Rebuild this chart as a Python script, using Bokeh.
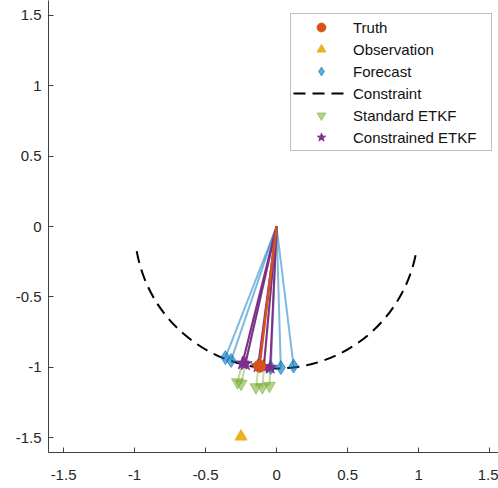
import numpy as np
from bokeh.plotting import figure
from bokeh.models import Range1d, FixedTicker, NumeralTickFormatter, Legend, LegendItem
from bokeh.embed import file_html
from bokeh.resources import INLINE

# ---- data ----
origin_x = 0.0
origin_y = 0.0
truth_x = [-0.12]
truth_y = [-0.99]
obs_x = [-0.25]
obs_y = [-1.49]
forecast_x = [-0.36, -0.32, -0.04, 0.03, 0.12]
forecast_y = [-0.93, -0.95, -1.00, -1.00, -0.99]
standard_x = [-0.275, -0.25, -0.145, -0.10, -0.05]
standard_y = [-1.105, -1.115, -1.14, -1.14, -1.13]
constrained_x = [-0.24, -0.22, -0.13, -0.09, -0.045]
constrained_y = [-0.97, -0.975, -0.99, -0.995, -1.0]
constraint_radius = 1.0
constraint_start_deg = 190
constraint_end_deg = 350
ticks = [-1.5, -1, -0.5, 0, 0.5, 1, 1.5]
labels = ["Truth", "Observation", "Forecast", "Constraint", "Standard ETKF", "Constrained ETKF"]

C_TRUTH = "#D95319"
C_OBS = "#EDB120"
C_FC = "#0072BD"
C_STD = "#77AC30"
C_CON = "#7E2F8E"
FONT = "Liberation Sans"

p = figure(width=498, height=488, title=None,
           x_range=Range1d(-1.606, 1.563), y_range=Range1d(-1.603, 1.603),
           output_backend="svg", toolbar_location=None,
           min_border_left=48, min_border_right=0, min_border_top=0, min_border_bottom=36,
           outline_line_color=None, background_fill_color="white")
p.grid.visible = False

# constraint arc
r_con = p.arc(x=[origin_x], y=[origin_y], radius=constraint_radius,
              start_angle=np.deg2rad(constraint_start_deg), end_angle=np.deg2rad(constraint_end_deg),
              line_color="black", line_width=2, line_dash="12 7")

n = len(forecast_x)
# spokes from origin
p.segment(x0=[origin_x]*n, y0=[origin_y]*n, x1=forecast_x, y1=forecast_y,
          line_color=C_FC, line_alpha=0.5, line_width=2)
p.segment(x0=[origin_x]*len(standard_x), y0=[origin_y]*len(standard_x), x1=standard_x, y1=standard_y,
          line_color=C_STD, line_alpha=0.45, line_width=2)
p.segment(x0=[origin_x]*len(constrained_x), y0=[origin_y]*len(constrained_x), x1=constrained_x, y1=constrained_y,
          line_color=C_CON, line_alpha=1.0, line_width=2)
p.segment(x0=[origin_x], y0=[origin_y], x1=truth_x, y1=truth_y,
          line_color=C_TRUTH, line_width=2.5)

r_fc = p.scatter(forecast_x, forecast_y, marker="diamond", size=14,
                 fill_color=C_FC, fill_alpha=0.6, line_color=C_FC, line_alpha=0.6)
r_std = p.scatter(standard_x, standard_y, marker="inverted_triangle", size=12,
                  fill_color=C_STD, fill_alpha=0.55, line_color=C_STD, line_alpha=0.55)
r_con_ens = p.scatter(constrained_x, constrained_y, marker="star", size=14,
                      fill_color=C_CON, line_color=C_CON)
r_truth = p.scatter(truth_x, truth_y, marker="circle", size=12,
                    fill_color=C_TRUTH, line_color=C_TRUTH)
r_obs = p.scatter(obs_x, obs_y, marker="triangle", size=12,
                  fill_color=C_OBS, line_color=C_OBS)

for ax in (p.xaxis[0], p.yaxis[0]):
    ax.ticker = FixedTicker(ticks=ticks)
    ax.formatter = NumeralTickFormatter(format="0.[0]")
    ax.minor_tick_line_color = None
    ax.major_tick_in = 5
    ax.major_tick_out = 0
    ax.axis_line_color = "#404040"
    ax.major_tick_line_color = "#404040"
    ax.major_label_text_font = FONT
    ax.major_label_text_font_size = "15px"
    ax.major_label_text_color = "#262626"
p.yaxis[0].major_label_standoff = 7
p.xaxis[0].major_label_standoff = 17

legend = Legend(items=[
    LegendItem(label=labels[0], renderers=[r_truth]),
    LegendItem(label=labels[1], renderers=[r_obs]),
    LegendItem(label=labels[2], renderers=[r_fc]),
    LegendItem(label=labels[3], renderers=[r_con]),
    LegendItem(label=labels[4], renderers=[r_std]),
    LegendItem(label=labels[5], renderers=[r_con_ens]),
], location=(242, 301))
legend.padding = 2
legend.spacing = 0
legend.glyph_width = 56
legend.glyph_height = 22
legend.label_height = 22
legend.label_width = 136
legend.label_standoff = 4
legend.label_text_font = FONT
legend.label_text_font_size = "15px"
legend.label_text_color = "#111111"
legend.border_line_color = "#808080"
legend.border_line_width = 1
legend.background_fill_color = "white"
legend.background_fill_alpha = 1.0
legend.margin = 0
p.add_layout(legend, "center")

open("out.html", "w").write(file_html(p, INLINE))
